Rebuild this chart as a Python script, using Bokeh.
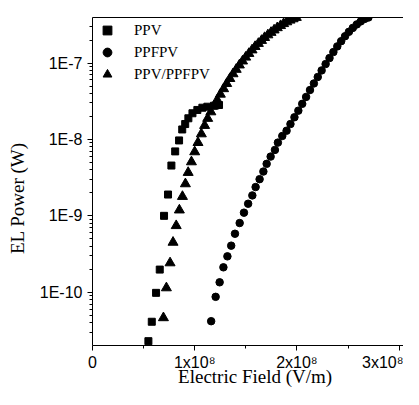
from bokeh.plotting import figure
from bokeh.models import Range1d, FixedTicker, LinearAxis, Legend, LegendItem
from bokeh.embed import file_html
from bokeh.resources import INLINE

# ---- data (Electric field in V/m, EL power in W) ----
ppv_field = [0.547e8, 0.580e8, 0.622e8, 0.658e8, 0.700e8, 0.739e8, 0.772e8, 0.809e8,
             0.847e8, 0.878e8, 0.907e8, 0.938e8, 0.978e8, 1.026e8, 1.075e8, 1.124e8,
             1.189e8, 1.238e8]
ppv_power = [2.29e-11, 4.11e-11, 9.82e-11, 1.98e-10, 1.00e-9, 1.90e-9, 4.55e-9, 6.97e-9,
             9.70e-9, 1.35e-8, 1.59e-8, 1.89e-8, 2.20e-8, 2.43e-8, 2.60e-8, 2.68e-8,
             2.76e-8, 2.82e-8]

ppfpv_field = [1.161e8, 1.205e8, 1.244e8, 1.281e8, 1.320e8, 1.357e8, 1.394e8, 1.440e8,
               1.482e8, 1.523e8, 1.564e8, 1.596e8, 1.635e8, 1.672e8, 1.704e8, 1.743e8,
               1.785e8, 1.814e8, 1.857e8, 1.899e8, 1.937e8, 1.976e8, 2.014e8, 2.052e8,
               2.090e8, 2.128e8, 2.166e8, 2.204e8, 2.242e8, 2.281e8, 2.319e8, 2.357e8,
               2.395e8, 2.433e8, 2.471e8, 2.509e8, 2.547e8, 2.586e8, 2.624e8, 2.662e8,
               2.700e8]
ppfpv_power = [4.18e-11, 8.71e-11, 1.35e-10, 2.12e-10, 2.95e-10, 4.07e-10, 5.83e-10, 8.05e-10,
               1.10e-9, 1.44e-9, 1.85e-9, 2.38e-9, 3.02e-9, 3.80e-9, 4.79e-9, 5.96e-9,
               7.29e-9, 9.08e-9, 1.11e-8, 1.30e-8, 1.59e-8, 1.95e-8, 2.38e-8, 2.92e-8,
               3.60e-8, 4.43e-8, 5.40e-8, 6.56e-8, 8.00e-8, 9.68e-8, 1.16e-7, 1.39e-7,
               1.65e-7, 1.93e-7, 2.24e-7, 2.56e-7, 2.88e-7, 3.20e-7, 3.50e-7, 3.77e-7,
               3.94e-7]

blend_field = [0.694e8, 0.723e8, 0.759e8, 0.788e8, 0.819e8, 0.850e8, 0.880e8, 0.909e8,
               0.936e8, 0.968e8, 1.000e8, 1.032e8, 1.065e8, 1.097e8, 1.127e8, 1.158e8,
               1.190e8, 1.220e8, 1.251e8, 1.283e8, 1.313e8, 1.344e8, 1.375e8, 1.406e8,
               1.437e8, 1.468e8, 1.499e8, 1.530e8, 1.561e8, 1.591e8, 1.623e8, 1.654e8,
               1.684e8, 1.716e8, 1.747e8, 1.777e8, 1.808e8, 1.840e8, 1.870e8, 1.901e8,
               1.933e8, 1.963e8, 1.994e8]
blend_power = [4.63e-11, 1.14e-10, 2.42e-10, 4.50e-10, 7.43e-10, 1.19e-9, 1.79e-9, 2.62e-9,
               3.69e-9, 5.08e-9, 6.87e-9, 9.08e-9, 1.18e-8, 1.52e-8, 1.88e-8, 2.29e-8,
               2.74e-8, 3.28e-8, 3.90e-8, 4.60e-8, 5.38e-8, 6.25e-8, 7.21e-8, 8.24e-8,
               9.40e-8, 1.06e-7, 1.19e-7, 1.33e-7, 1.48e-7, 1.64e-7, 1.80e-7, 1.97e-7,
               2.15e-7, 2.33e-7, 2.51e-7, 2.70e-7, 2.89e-7, 3.08e-7, 3.27e-7, 3.45e-7,
               3.63e-7, 3.78e-7, 3.94e-7]

series_names = ["PPV", "PPFPV", "PPV/PPFPV"]

x_ticks = [0, 1e8, 2e8, 3e8]
x_tick_labels = ["0", "1x10\u2078", "2x10\u2078", "3x10\u2078"]
x_minor_ticks = [0.5e8, 1.5e8, 2.5e8]

y_ticks = [1e-10, 1e-9, 1e-8, 1e-7]
y_tick_labels = ["1E-10", "1E-9", "1E-8", "1E-7"]
y_minor_ticks = [m * 10.0 ** e for e in range(-11, -6) for m in range(2, 10)]

x_title = "\u00a0\u00a0\u00a0Electric Field (V/m)"
y_title = "EL Power (W)" + "\u00a0" * 7

SANS = "Liberation Sans"
SERIF = "Liberation Serif"

p = figure(width=403, height=389, output_backend="svg", toolbar_location=None,
           y_axis_type="log",
           x_range=Range1d(0, 3.043e8), y_range=Range1d(2.01e-11, 3.94e-7),
           min_border_left=92, min_border_right=0, min_border_top=17, min_border_bottom=43)
p.outline_line_color = None
p.xgrid.visible = False
p.ygrid.visible = False
p.background_fill_color = "white"
p.border_fill_color = "white"

r1 = p.scatter(ppv_field, ppv_power, marker="square", size=7, color="black")
r2 = p.scatter(ppfpv_field, ppfpv_power, marker="circle", size=7.5, color="black")
r3 = p.scatter(blend_field, blend_power, marker="triangle", size=10, color="black")

for ax in (p.xaxis[0], p.yaxis[0]):
    ax.major_label_text_font = SANS
    ax.major_label_text_font_size = "16px"
    ax.major_label_text_color = "black"
    ax.major_tick_in = 0
    ax.major_tick_out = 5
    ax.minor_tick_in = 0
    ax.minor_tick_out = 3
    ax.axis_line_color = "black"
    ax.major_tick_line_color = "black"
    ax.minor_tick_line_color = "black"
    ax.axis_label_text_font = SERIF
    ax.axis_label_text_font_style = "normal"
    ax.axis_label_text_font_size = "19px"
    ax.axis_label_text_color = "black"

xa = p.xaxis[0]
xa.ticker = FixedTicker(ticks=x_ticks, minor_ticks=x_minor_ticks)
xa.major_label_overrides = dict(zip(x_ticks, x_tick_labels))
xa.major_label_standoff = 3
xa.axis_label = x_title
xa.axis_label_standoff = -8

ya = p.yaxis[0]
ya.ticker = FixedTicker(ticks=y_ticks, minor_ticks=y_minor_ticks)
ya.major_label_overrides = dict(zip(y_ticks, y_tick_labels))
ya.major_label_standoff = 5
ya.axis_label = y_title
ya.axis_label_standoff = 9

# top frame line
top = LinearAxis(ticker=FixedTicker(ticks=[]), major_tick_out=0, minor_tick_out=0,
                 major_tick_in=0, minor_tick_in=0, axis_line_color="black")
p.add_layout(top, "above")

legend = Legend(items=[LegendItem(label=series_names[0], renderers=[r1]),
                       LegendItem(label=series_names[1], renderers=[r2]),
                       LegendItem(label=series_names[2], renderers=[r3])],
                location="top_left")
legend.title = "\u00a0"
legend.title_text_font_size = "2px"
legend.title_standoff = 0
legend.margin = 0
legend.padding = 0
legend.spacing = -4
legend.glyph_width = 30
legend.glyph_height = 22
legend.label_height = 22
legend.label_standoff = 12
legend.label_text_font = SERIF
legend.label_text_font_size = "15px"
legend.label_text_color = "black"
legend.border_line_color = None
legend.background_fill_alpha = 0
p.add_layout(legend)

open("out.html", "w").write(file_html(p, INLINE))
